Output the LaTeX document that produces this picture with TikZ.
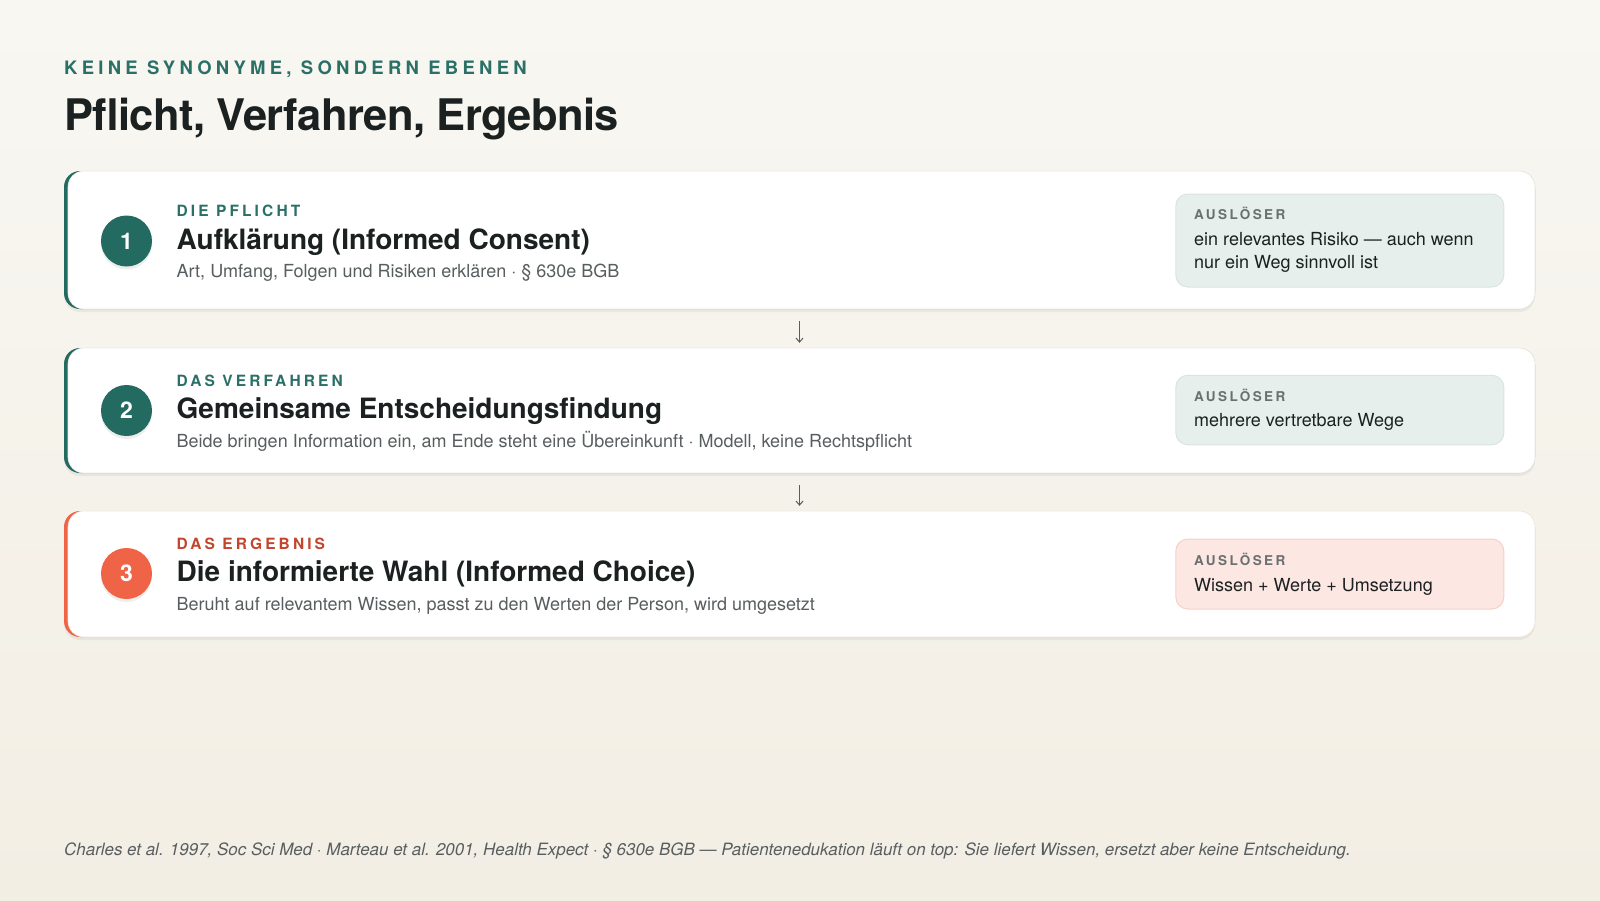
\documentclass[tikz,border=0pt]{standalone}
\usepackage{fontspec}
\setmainfont{TeX Gyre Heros}
\newfontfamily\trackfont[LetterSpace=20]{TeX Gyre Heros}
\newfontfamily\widetrackfont[LetterSpace=23]{TeX Gyre Heros}
\newfontfamily\smalltrackfont[LetterSpace=18]{TeX Gyre Heros}
\newfontfamily\titlefont[LetterSpace=-1.5]{TeX Gyre Heros}
\usetikzlibrary{positioning, shadows, arrows.meta}
\definecolor{PageTop}{HTML}{F8F7F2}
\definecolor{PageBottom}{HTML}{F3EEE4}
\definecolor{TealDark}{HTML}{236B60}
\definecolor{TealText}{HTML}{2A7066}
\definecolor{OrangeAccent}{HTML}{EF6446}
\definecolor{OrangeText}{HTML}{C2452D}
\definecolor{InkDark}{HTML}{1B2020}
\definecolor{InkGray}{HTML}{585D5F}
\definecolor{LabelGray}{HTML}{6A6F70}
\definecolor{TealBox}{HTML}{E6EFEC}
\definecolor{TealBoxLine}{HTML}{D9E5E1}
\definecolor{RoseBox}{HTML}{FCE7E3}
\definecolor{RoseBoxLine}{HTML}{F4D0C9}
\definecolor{CardLine}{HTML}{EEEBE4}
\tikzstyle{card_base}=[rectangle,
        minimum width=1471pt,
        inner sep=0pt,
        rounded corners=16pt,
        drop shadow={shadow xshift=0pt, shadow yshift=-3pt, opacity=0.05, fill=black}, ]
\tikzstyle{card_face}=[rectangle,
        minimum width=1467pt,
        inner sep=0pt,
        rounded corners=16pt,
        fill=white, draw=CardLine, line width=0.6pt, ]
\tikzstyle{step_number}=[circle,
        minimum size=51pt,
        inner sep=0pt,
        text=white,
        font=\bfseries\fontsize{23}{23}\selectfont,
        drop shadow={shadow xshift=0pt, shadow yshift=-3pt, opacity=0.07, fill=black}, ]
\tikzstyle{trigger_box}=[rectangle,
        minimum width=328pt,
        inner sep=0pt,
        rounded corners=12pt,
        line width=1pt, ]
\tikzstyle{level_label}=[anchor=base west, inner sep=0pt, font=\trackfont\bfseries\fontsize{15.5}{15.5}\selectfont]
\tikzstyle{level_title}=[anchor=base west, inner sep=0pt, text=InkDark, font=\bfseries\fontsize{28}{28}\selectfont]
\tikzstyle{level_sub}=[anchor=base west, inner sep=0pt, text=InkGray, font=\fontsize{18}{18}\selectfont]
\tikzstyle{trigger_label}=[anchor=base west, inner sep=0pt, text=LabelGray, font=\smalltrackfont\bfseries\fontsize{13.5}{13.5}\selectfont]
\tikzstyle{trigger_text}=[anchor=base west, inner sep=0pt, text=InkDark, font=\fontsize{18}{18}\selectfont]
\tikzstyle{flow_arrow}=[draw=InkGray, line width=1pt, shorten <=12pt, shorten >=5pt,
        -{Straight Barb[length=4pt, width=7pt]}]

\begin{document}
\begin{tikzpicture}[x=1pt, y=-1pt]
    % page
    \shade[top color=PageTop, bottom color=PageBottom] (0,0) rectangle (1600,900);
    \useasboundingbox (0,0) rectangle (1600,900);

    % heading
    \node at (64, 74.5) (eyebrow) [anchor=base west, inner sep=0pt, text=TealText,
        font=\widetrackfont\bfseries\fontsize{18.5}{18.5}\selectfont] {KEINE SYNONYME, SONDERN EBENEN};
    \node at (64, 130.6) (heading) [anchor=base west, inner sep=0pt, text=InkDark,
        font=\titlefont\bfseries\fontsize{43.5}{43.5}\selectfont] {Pflicht, Verfahren, Ergebnis};

    % cards
    \node at (799.5, 240) (card1) [card_base, minimum height=138pt, fill=TealDark] {};
    \node at (801.5, 240) (face1) [card_face, minimum height=138pt] {};
    \node at (799.5, 410.5) (card2) [card_base, minimum height=125pt, fill=TealDark] {};
    \node at (801.5, 410.5) (face2) [card_face, minimum height=125pt] {};
    \node at (799.5, 574) (card3) [card_base, minimum height=126pt, fill=OrangeAccent] {};
    \node at (801.5, 574) (face3) [card_face, minimum height=126pt] {};

    \node at (126.5, 241) (num1) [step_number, fill=TealDark] {1};
    \node at (126.5, 410.5) (num2) [step_number, fill=TealDark] {2};
    \node at (126.5, 573.5) (num3) [step_number, fill=OrangeAccent] {3};

    % level 1
    \node at (176.5, 216.5) (label1) [level_label, text=TealText] {DIE PFLICHT};
    \node at (176.5, 249) (title1) [level_title] {Aufklärung (Informed Consent)};
    \node at (176.5, 277.5) (sub1) [level_sub] {Art, Umfang, Folgen und Risiken erklären · § 630e BGB};
    \node at (1339.8, 240.5) (trig1) [trigger_box, minimum height=93pt, fill=TealBox, draw=TealBoxLine] {};
    \node at (1194, 219.4) (triglabel1) [trigger_label] {AUSLÖSER};
    \node at (1194, 245) (trigtext1a) [trigger_text] {ein relevantes Risiko — auch wenn};
    \node at (1194, 268.4) (trigtext1b) [trigger_text] {nur ein Weg sinnvoll ist};

    % level 2
    \node at (176.5, 386) (label2) [level_label, text=TealText] {DAS VERFAHREN};
    \node at (176.5, 418) (title2) [level_title] {Gemeinsame Entscheidungsfindung};
    \node at (176.5, 447) (sub2) [level_sub] {Beide bringen Information ein, am Ende steht eine Übereinkunft · Modell, keine Rechtspflicht};
    \node at (1339.8, 410) (trig2) [trigger_box, minimum height=69.5pt, fill=TealBox, draw=TealBoxLine] {};
    \node at (1194, 401) (triglabel2) [trigger_label] {AUSLÖSER};
    \node at (1194, 426.5) (trigtext2) [trigger_text] {mehrere vertretbare Wege};

    % level 3
    \node at (176.5, 549) (label3) [level_label, text=OrangeText] {DAS ERGEBNIS};
    \node at (176.5, 581.6) (title3) [level_title] {Die informierte Wahl (Informed Choice)};
    \node at (176.5, 610) (sub3) [level_sub] {Beruht auf relevantem Wissen, passt zu den Werten der Person, wird umgesetzt};
    \node at (1339.8, 574) (trig3) [trigger_box, minimum height=70pt, fill=RoseBox, draw=RoseBoxLine] {};
    \node at (1194, 565) (triglabel3) [trigger_label] {AUSLÖSER};
    \node at (1194, 591) (trigtext3) [trigger_text] {Wissen + Werte + Umsetzung};

    % arrows between levels
    \draw[flow_arrow] (card1.south) -- (card2.north);
    \draw[flow_arrow] (card2.south) -- (card3.north);

    % footer
    \node at (64, 855) (footer) [anchor=base west, inner sep=0pt, text=InkGray,
        font=\itshape\fontsize{16.95}{16.95}\selectfont] {Charles et al. 1997, Soc Sci Med · Marteau et al. 2001, Health Expect · § 630e BGB — Patientenedukation läuft on top: Sie liefert Wissen, ersetzt aber keine Entscheidung.};

\end{tikzpicture}
\end{document}
